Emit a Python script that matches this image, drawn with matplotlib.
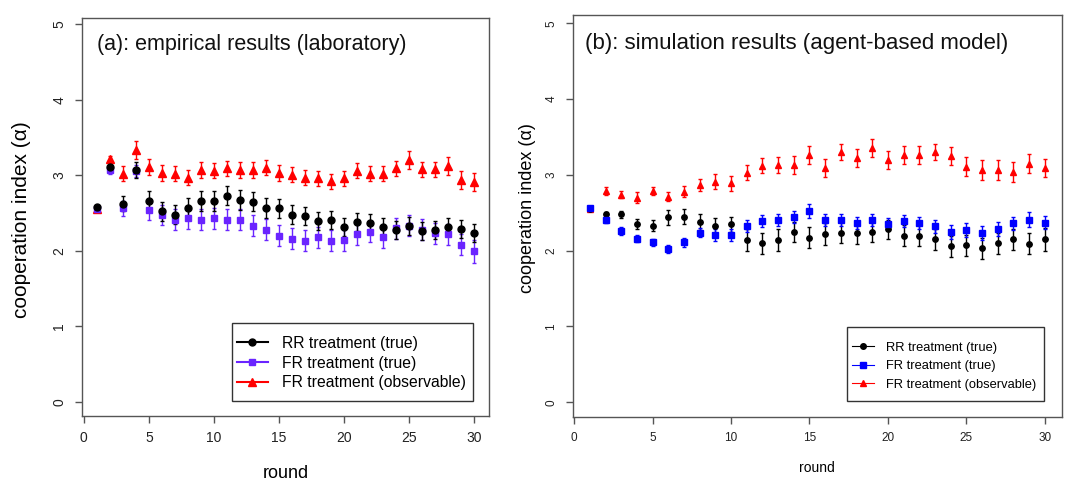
import matplotlib
matplotlib.use("Agg")
import matplotlib.pyplot as plt
from matplotlib.lines import Line2D
from matplotlib.patches import Rectangle

plt.rcParams['font.family'] = ['Liberation Sans', 'DejaVu Sans']

rounds = list(range(1, 31))

# Panel (a): empirical results
a_rr = [2.58, 3.11, 2.62, 3.07, 2.66, 2.52, 2.48, 2.57, 2.66, 2.66,
        2.73, 2.67, 2.65, 2.57, 2.56, 2.48, 2.46, 2.39, 2.41, 2.31,
        2.38, 2.37, 2.32, 2.27, 2.33, 2.26, 2.28, 2.31, 2.29, 2.23]
a_rr_err = [0.03, 0.05, 0.10, 0.10, 0.13, 0.12, 0.12, 0.13, 0.13, 0.13,
            0.13, 0.13, 0.13, 0.13, 0.12, 0.12, 0.12, 0.12, 0.12, 0.12,
            0.12, 0.12, 0.12, 0.12, 0.12, 0.12, 0.12, 0.12, 0.12, 0.12]
a_fr = [2.55, 3.07, 2.56, 3.06, 2.54, 2.47, 2.41, 2.43, 2.41, 2.43,
        2.41, 2.41, 2.33, 2.28, 2.20, 2.16, 2.13, 2.18, 2.13, 2.14,
        2.22, 2.25, 2.18, 2.30, 2.33, 2.28, 2.23, 2.22, 2.08, 1.99]
a_fr_err = [0.03, 0.05, 0.10, 0.08, 0.13, 0.13, 0.14, 0.14, 0.14, 0.14,
            0.14, 0.14, 0.14, 0.14, 0.14, 0.14, 0.14, 0.14, 0.14, 0.14,
            0.14, 0.14, 0.14, 0.14, 0.14, 0.14, 0.14, 0.14, 0.14, 0.15]
a_obs = [2.55, 3.21, 3.02, 3.33, 3.11, 3.03, 3.02, 2.97, 3.07, 3.06,
         3.09, 3.07, 3.07, 3.10, 3.03, 3.01, 2.97, 2.96, 2.92, 2.96,
         3.06, 3.02, 3.02, 3.09, 3.20, 3.08, 3.08, 3.12, 2.94, 2.91]
a_obs_err = [0.02, 0.05, 0.10, 0.12, 0.10, 0.10, 0.10, 0.10, 0.10, 0.10,
             0.10, 0.10, 0.10, 0.10, 0.10, 0.10, 0.10, 0.10, 0.10, 0.10,
             0.10, 0.10, 0.10, 0.10, 0.12, 0.10, 0.10, 0.12, 0.12, 0.12]

# Panel (b): simulation results
b_rr = [2.55, 2.48, 2.48, 2.35, 2.33, 2.44, 2.45, 2.38, 2.33, 2.35,
        2.14, 2.10, 2.14, 2.25, 2.17, 2.22, 2.24, 2.23, 2.25, 2.28,
        2.20, 2.20, 2.15, 2.06, 2.07, 2.03, 2.10, 2.15, 2.09, 2.15]
b_rr_err = [0.03, 0.03, 0.05, 0.07, 0.07, 0.10, 0.10, 0.11, 0.10, 0.10,
            0.14, 0.14, 0.14, 0.13, 0.14, 0.14, 0.14, 0.14, 0.14, 0.13,
            0.14, 0.14, 0.14, 0.14, 0.14, 0.14, 0.14, 0.14, 0.14, 0.15]
b_fr = [2.56, 2.41, 2.26, 2.16, 2.11, 2.02, 2.11, 2.24, 2.21, 2.21,
        2.33, 2.39, 2.41, 2.45, 2.52, 2.41, 2.41, 2.37, 2.41, 2.35,
        2.39, 2.36, 2.32, 2.25, 2.27, 2.23, 2.29, 2.36, 2.41, 2.37]
b_fr_err = [0.03, 0.04, 0.05, 0.05, 0.05, 0.05, 0.06, 0.06, 0.08, 0.08,
            0.08, 0.08, 0.08, 0.08, 0.09, 0.08, 0.08, 0.08, 0.08, 0.08,
            0.08, 0.08, 0.08, 0.09, 0.09, 0.09, 0.09, 0.09, 0.10, 0.09]
b_obs = [2.55, 2.79, 2.74, 2.70, 2.79, 2.71, 2.78, 2.87, 2.91, 2.89,
         3.03, 3.12, 3.13, 3.13, 3.26, 3.09, 3.30, 3.22, 3.36, 3.20,
         3.26, 3.26, 3.30, 3.25, 3.11, 3.06, 3.06, 3.04, 3.15, 3.09]
b_obs_err = [0.02, 0.05, 0.05, 0.07, 0.05, 0.06, 0.07, 0.08, 0.10, 0.10,
             0.10, 0.10, 0.10, 0.12, 0.12, 0.12, 0.11, 0.12, 0.12, 0.12,
             0.12, 0.12, 0.11, 0.12, 0.12, 0.13, 0.13, 0.13, 0.12, 0.12]

x_ticks = [0, 5, 10, 15, 20, 25, 30]
y_ticks = [0, 1, 2, 3, 4, 5]
legend_labels = ["RR treatment (true)", "FR treatment (true)", "FR treatment (observable)"]

PURPLE = "#6a24ff"
BLUE = "#0000ff"
RED = "#ff0000"
SPINE = "#555555"

fig = plt.figure(figsize=(10.69, 4.83), dpi=100)
axA = fig.add_axes([0.0764, 0.1387, 0.3813, 0.8234])
axB = fig.add_axes([0.5357, 0.1373, 0.4577, 0.8317])


def style_axes(ax, fs, xlim, ylim):
    ax.set_xlim(*xlim)
    ax.set_ylim(*ylim)
    ax.set_xticks(x_ticks)
    ax.set_yticks(y_ticks)
    for s in ax.spines.values():
        s.set_color(SPINE)
        s.set_linewidth(1.0)
    ax.tick_params(direction='out', length=5, width=1, color=SPINE,
                   labelsize=fs, labelcolor='#222222', pad=6)
    for lab in ax.get_yticklabels():
        lab.set_rotation(90)
        lab.set_va('center')


def plot_panel(ax, series, ms, tri_ms, cap):
    for y, e, c, m in series:
        ax.errorbar(rounds, y, yerr=e, fmt=m, color=c, ecolor=c,
                    ms=(tri_ms if m == '^' else ms), mec=c, mfc=c,
                    elinewidth=1.0, capsize=cap, capthick=1.0, lw=0)


def legend_box(ax, x0, y0, x1, y1):
    ax.add_patch(Rectangle((x0, y0), x1 - x0, y1 - y0, transform=ax.transAxes,
                           fill=True, facecolor='white', edgecolor='#333333',
                           linewidth=1.0, zorder=4))


# Panel (a)
plot_panel(axA, [(a_obs, a_obs_err, RED, '^'),
                 (a_fr, a_fr_err, PURPLE, 's'),
                 (a_rr, a_rr_err, 'black', 'o')], ms=5, tri_ms=6, cap=1.5)
style_axes(axA, 10, (-0.16, 31.16), (-0.19, 5.08))
axA.text(0.038, 0.935, "(a): empirical results (laboratory)", transform=axA.transAxes,
         fontsize=15.5, va='center', ha='left', color='#111111')
axA.set_xlabel("round", fontsize=13, labelpad=14)
axA.set_ylabel("cooperation index (α)", fontsize=15)
axA.yaxis.set_label_coords(-0.125, 0.495)

legend_box(axA, 0.369, 0.038, 0.960, 0.234)
hA = [Line2D([], [], color='black', marker='o', ms=5),
      Line2D([], [], color=PURPLE, marker='s', ms=5),
      Line2D([], [], color=RED, marker='^', ms=6)]
legA = axA.legend(hA, legend_labels, loc='center left', bbox_to_anchor=(0.381, 0.133),
                  fontsize=11.3, frameon=False, handlelength=1.95, handletextpad=0.9,
                  borderpad=0, labelspacing=0.3, borderaxespad=0)
legA.set_zorder(5)

# Panel (b)
plot_panel(axB, [(b_obs, b_obs_err, RED, '^'),
                 (b_rr, b_rr_err, 'black', 'o'),
                 (b_fr, b_fr_err, BLUE, 's')], ms=3.9, tri_ms=4.5, cap=1.3)
style_axes(axB, 8.5, (-0.1, 31.1), (-0.19, 5.11))
axB.text(0.025, 0.93, "(b): simulation results (agent-based model)", transform=axB.transAxes,
         fontsize=16, va='center', ha='left', color='#111111')
axB.set_xlabel("round", fontsize=10, labelpad=12)
axB.set_ylabel("cooperation index (α)", fontsize=13)
axB.yaxis.set_label_coords(-0.075, 0.52)

legend_box(axB, 0.561, 0.038, 0.963, 0.223)
hB = [Line2D([], [], color='black', marker='o', ms=4, lw=0.8),
      Line2D([], [], color=BLUE, marker='s', ms=4, lw=0.8),
      Line2D([], [], color=RED, marker='^', ms=4.5, lw=0.8)]
legB = axB.legend(hB, legend_labels, loc='center left', bbox_to_anchor=(0.570, 0.126),
                  fontsize=9.3, frameon=False, handlelength=1.7, handletextpad=0.93,
                  borderpad=0, labelspacing=0.5, borderaxespad=0)
legB.set_zorder(5)

fig.savefig("out.png", dpi=100)
